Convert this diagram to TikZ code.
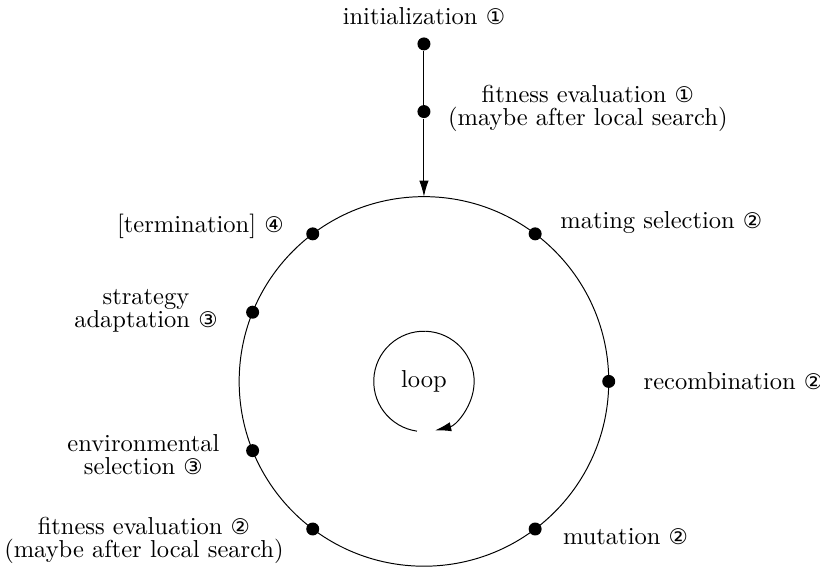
\documentclass[tikz,border=0pt]{standalone}
\usepackage{fontspec}
\newfontfamily\circfont[Scale=0.88]{DejaVu Sans}
\newcommand{\cnum}[1]{{\circfont #1}}
\usetikzlibrary{arrows.meta,positioning}
\tikzset{
  dot/.style={circle,fill,inner sep=0pt,minimum size=5.3pt},
  lbl/.style={align=center,font=\fontsize{10}{9.5}\selectfont},
}
\begin{document}
\begin{tikzpicture}[line join=round,>={Latex[length=6.5pt,width=3.8pt]}]
\useasboundingbox (-6.08,-2.69) rectangle (5.68,5.47);
% outer cycle
\draw (0,0) circle (2.65);
\coordinate (top) at (90:2.65);
\foreach \a/\n in {0/reco,53/mate,127/term,158/strat,202/env,233/fit2,307/mut}
  \node[dot] (\n) at (\a:2.65) {};
% start of the run
\node[dot] (init) at (0,4.84) {};
\node[dot] (fit1) at (0,3.87) {};
\draw[->] (init) -- (fit1) -- (top);
% labels
\node[lbl, above=1.5pt of init] (tinit) {initialization \cnum{①}};
\node[lbl, right=3.5pt of fit1, yshift=1.2pt] (tfit1) {fitness evaluation \cnum{①}\\(maybe after local search)};
\node[lbl, right=3.9pt of mate, yshift=4.6pt] (tmate) {mating selection \cnum{②}};
\node[lbl, right=7.9pt of reco] (treco) {recombination \cnum{②}};
\node[lbl, right=5pt of mut, yshift=-3pt] (tmut) {mutation \cnum{②}};
\node[lbl, left=5.5pt of fit2, yshift=-4.6pt] (tfit2) {fitness evaluation \cnum{②}\\(maybe after local search)};
\node[lbl, left=7.2pt of env, yshift=-1.5pt] (tenv) {environmental\\selection \cnum{③}};
\node[lbl, left=7.9pt of strat, yshift=0.5pt] (tstrat) {strategy\\adaptation \cnum{③}};
\node[lbl, left=5.5pt of term, yshift=2.9pt] (tterm) {[termination] \cnum{④}};
% inner loop
\node (loop) at (0,0) {loop};
\draw[->] (262:0.72) arc[start angle=262,end angle=-77,radius=0.72];
\end{tikzpicture}
\end{document}
